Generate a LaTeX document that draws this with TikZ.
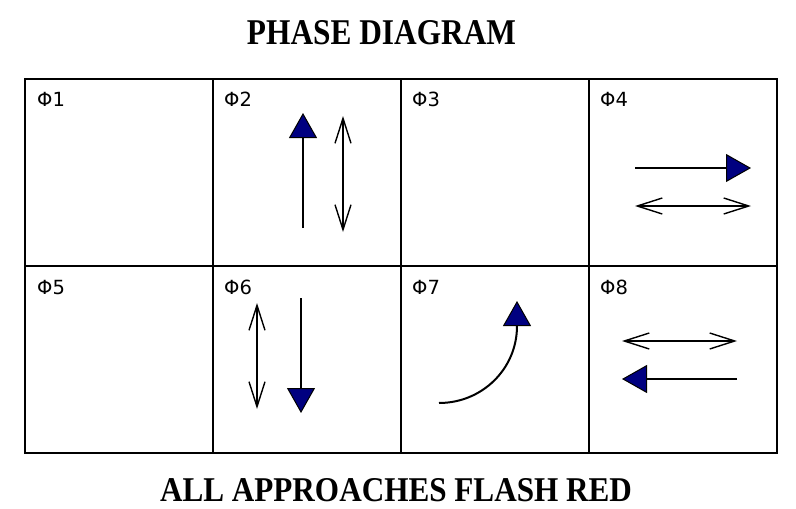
\documentclass[tikz,border=0pt]{standalone}
\usepackage{fontspec}
\setmainfont{Liberation Serif}
\newfontfamily\labelfont{DejaVu Sans}
\usetikzlibrary{arrows.meta}
\definecolor{headblue}{HTML}{000080}
\begin{document}
\begin{tikzpicture}[x=1pt,y=-1pt,
  gridline/.style={line width=2.5pt, line cap=rect},
  thingrid/.style={line width=1.6pt, line cap=rect},
  phase/.style={anchor=base west, inner sep=0pt, font=\labelfont\fontsize{19.5}{19.5}\selectfont},
  solidarrow/.style={line width=1.4pt, -{Triangle[length=25pt,width=28pt,fill=headblue,line width=1pt]}},
  botharrow/.style={line width=1.4pt, {Straight Barb[length=25pt,width=16pt]}-{Straight Barb[length=25pt,width=16pt]}},
  title/.style={inner sep=0pt, anchor=base}]
\useasboundingbox (0,0) rectangle (796,509);
% titles
\node[title] (top) at (381.5,44) {\resizebox{269pt}{24pt}{\bfseries PHASE DIAGRAM}};
\node[title] (bottom) at (396,501) {\resizebox{472pt}{23pt}{\bfseries ALL APPROACHES FLASH RED}};
% grid
\draw[thingrid] (589,79) -- (777,79) -- (777,453) -- (589,453);
\draw[thingrid] (589,266) -- (777,266);
\draw[gridline] (589,79) -- (25,79) -- (25,453) -- (589,453) -- cycle;
\draw[gridline] (25,266) -- (589,266);
\draw[gridline] (213,79) -- (213,453);
\draw[gridline] (401,79) -- (401,453);
% labels
\node[phase] (p1) at (37,106) {Φ1};
\node[phase] (p2) at (224,106) {Φ2};
\node[phase] (p3) at (412,106) {Φ3};
\node[phase] (p4) at (600,106) {Φ4};
\node[phase] (p5) at (37,294) {Φ5};
\node[phase] (p6) at (224,294) {Φ6};
\node[phase] (p7) at (412,294) {Φ7};
\node[phase] (p8) at (600,294) {Φ8};
% phase 2
\coordinate (a2s) at (303,228); \coordinate (a2e) at (303,113);
\coordinate (b2s) at (343,232); \coordinate (b2e) at (343,116);
\draw[solidarrow] (a2s) -- (a2e);
\draw[botharrow] (b2s) -- (b2e);
% phase 4
\coordinate (a4s) at (635,168); \coordinate (a4e) at (751,168);
\coordinate (b4s) at (635,206); \coordinate (b4e) at (751,206);
\draw[solidarrow] (a4s) -- (a4e);
\draw[botharrow] (b4s) -- (b4e);
% phase 6
\coordinate (b6s) at (257,303); \coordinate (b6e) at (257,409);
\coordinate (a6s) at (301,298); \coordinate (a6e) at (301,413);
\draw[botharrow] (b6s) -- (b6e);
\draw[solidarrow] (a6s) -- (a6e);
% phase 7
\coordinate (a7s) at (439,403); \coordinate (a7m) at (517,326); \coordinate (a7e) at (517,301);
\draw[solidarrow, line width=2pt] (a7s) .. controls (482,403) and (517,369) .. (a7m) -- (a7e);
% phase 8
\coordinate (b8s) at (622,341); \coordinate (b8e) at (737,341);
\coordinate (a8s) at (737,379); \coordinate (a8e) at (622,379);
\draw[botharrow] (b8s) -- (b8e);
\draw[solidarrow] (a8s) -- (a8e);
\end{tikzpicture}
\end{document}
